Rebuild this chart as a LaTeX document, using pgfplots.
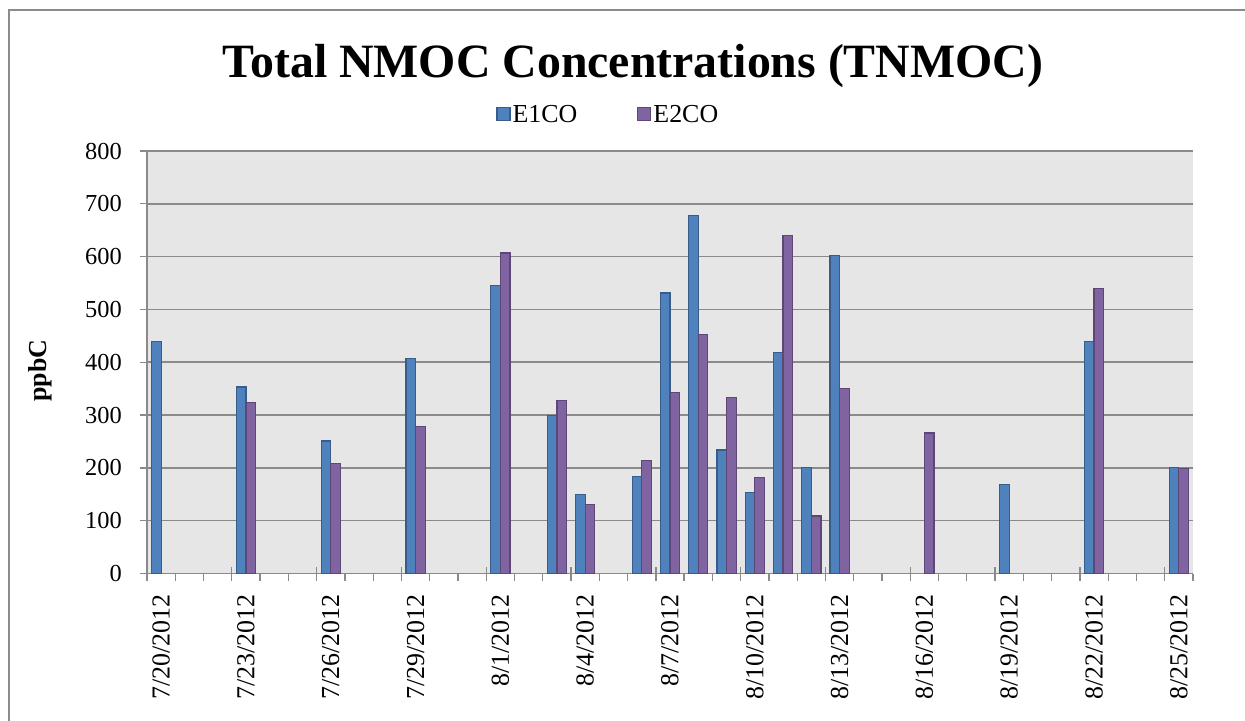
\documentclass[border=0pt]{standalone}
\usepackage{fontspec}
\setmainfont{Liberation Serif}
\usepackage{pgfplots}
\pgfplotsset{compat=1.18}

\definecolor{eone}{HTML}{4F81BD}
\definecolor{eoneedge}{HTML}{385D8A}
\definecolor{etwo}{HTML}{8064A2}
\definecolor{etwoedge}{HTML}{5C4776}
\definecolor{plotbg}{HTML}{E6E6E6}
\definecolor{gridc}{HTML}{8A8A8A}
\definecolor{framec}{HTML}{8C8C8C}

\begin{document}
\begin{tikzpicture}
\useasboundingbox (0,0) rectangle (1245bp,721bp);
% chart area frame (cut off at right and bottom)
\draw[framec, line width=1.5bp] (9bp,-5bp) -- (9bp,711bp) -- (1250bp,711bp);
\node[anchor=base, font=\fontsize{48}{50}\selectfont\bfseries] at (633bp,643bp)
  {Total NMOC Concentrations (TNMOC)};

\begin{axis}[
  at={(147bp,147.5bp)}, anchor=south west,
  scale only axis, width=1046bp, height=422.5bp,
  axis background/.style={fill=plotbg},
  axis x line*=bottom, axis y line*=left,
  axis line style={draw=gridc, line width=1.3bp, -},
  xmin=-0.5, xmax=36.5, ymin=0, ymax=800,
  ytick={0,100,...,800},
  ymajorgrids, major grid style={draw=gridc, line width=1.6bp},
  xtick={0,3,...,36},
  xticklabels={7/20/2012,7/23/2012,7/26/2012,7/29/2012,8/1/2012,8/4/2012,8/7/2012,
    8/10/2012,8/13/2012,8/16/2012,8/19/2012,8/22/2012,8/25/2012},
  major x tick style={draw=none},
  minor xtick={-0.5,0.5,...,36.5},
  extra x ticks={-0.5,2.5,...,35.5},
  extra x tick labels={},
  extra x tick style={major x tick style={draw=gridc, line width=1.3bp}, tick align=center, major tick length=12bp},
  tick align=outside,
  major tick length=7bp, minor tick length=7bp,
  tick style={draw=gridc, line width=1.3bp},
  /pgf/number format/assume math mode=true,
  tick label style={font=\fontsize{24.5}{25}\selectfont},
  yticklabel style={anchor=east, inner sep=0pt, xshift=-18bp},
  xticklabel style={rotate=90, anchor=east, inner sep=0pt, xshift=-14bp,
    font=\fontsize{26}{26}\selectfont},
  ylabel={ppbC},
  every axis y label/.style={at={(rel axis cs:0,0.48)}, anchor=center, rotate=90,
    yshift=107bp, font=\fontsize{26}{26}\selectfont\bfseries},
  ybar=0pt, bar width=0.34,
  legend columns=2,
  legend style={at={(0.441,1.087)}, anchor=center, draw=none, fill=none,
    font=\fontsize{26}{26}\selectfont,
    /tikz/every odd column/.append style={column sep=0bp},
    /tikz/every even column/.append style={column sep=58bp}},
  legend image code/.code={\draw[#1, bar shift=0pt] (0bp,-6.5bp) rectangle (13bp,6.5bp);},
]
\addplot[fill=eone, draw=eoneedge, line width=1.2bp] coordinates {
  (0,440) (3,353) (6,251) (9,407) (12,546) (14,299) (15,150) (17,184)
  (18,531) (19,678) (20,234) (21,153) (22,419) (23,201) (24,602)
  (30,168) (33,439) (36,201)
};
\addplot[fill=etwo, draw=etwoedge, line width=1.2bp] coordinates {
  (3,324) (6,209) (9,278) (12,607) (14,327) (15,130) (17,214) (18,342)
  (19,453) (20,334) (21,182) (22,640) (23,109) (24,350) (27,266)
  (33,539) (36,199)
};
\legend{E1CO,E2CO}
\end{axis}
\end{tikzpicture}
\end{document}
